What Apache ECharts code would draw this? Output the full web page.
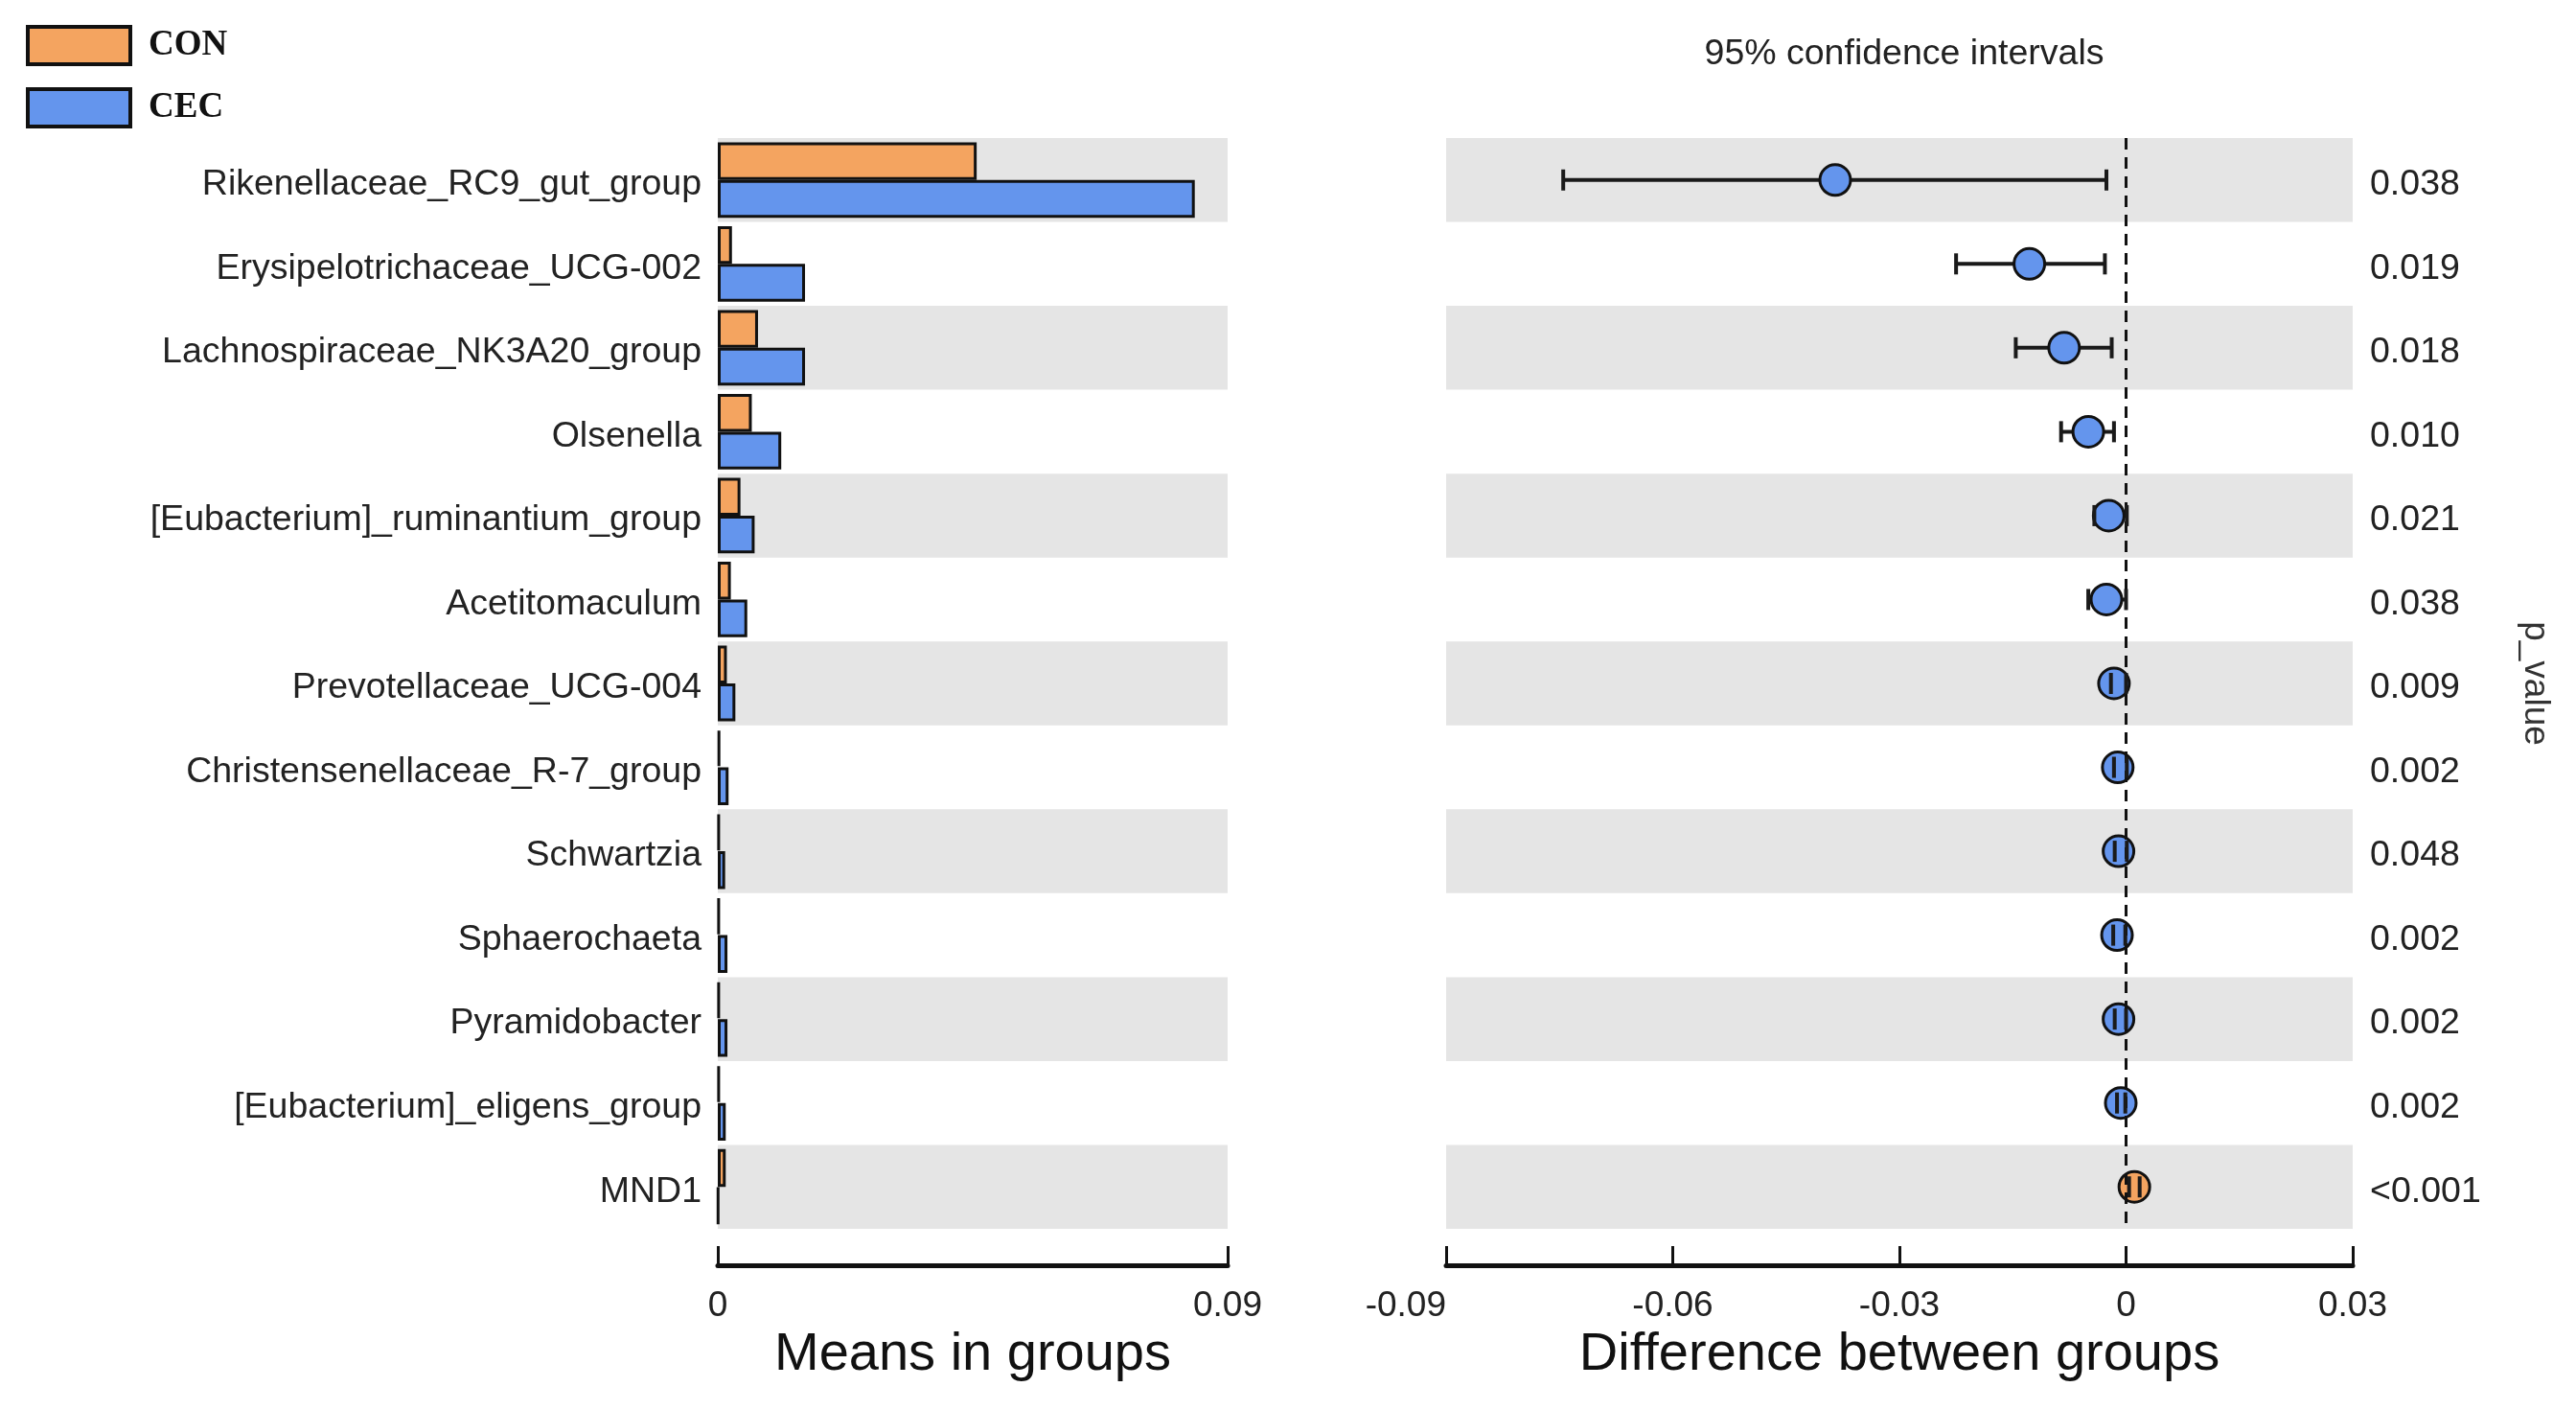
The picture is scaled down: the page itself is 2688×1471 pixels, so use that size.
<!DOCTYPE html>
<html>
<head>
<meta charset="utf-8">
<script src="https://cdn.jsdelivr.net/npm/echarts@6/dist/echarts.min.js"></script>
<style>html,body{margin:0;padding:0;background:#fff;}#c{width:2688px;height:1471px;}</style>
</head>
<body>
<div id="c"></div>
<script>
const categories = ['Rikenellaceae_RC9_gut_group','Erysipelotrichaceae_UCG-002','Lachnospiraceae_NK3A20_group','Olsenella','[Eubacterium]_ruminantium_group','Acetitomaculum','Prevotellaceae_UCG-004','Christensenellaceae_R-7_group','Schwartzia','Sphaerochaeta','Pyramidobacter','[Eubacterium]_eligens_group','MND1'];
const conMeans = [0.0457, 0.0025, 0.0071, 0.0060, 0.0040, 0.0023, 0.0016, 0.0004, 0.0003, 0.0003, 0.0003, 0.0003, 0.0014];
const cecMeans = [0.0842, 0.0154, 0.0154, 0.0112, 0.0065, 0.0052, 0.0031, 0.0019, 0.0013, 0.0017, 0.0017, 0.0014, 0.0001];
const diffs  = [-0.0385, -0.0128, -0.0082, -0.0050, -0.0023, -0.0026, -0.0016, -0.0011, -0.0010, -0.0012, -0.0010, -0.0007, 0.0011];
const ciLow  = [-0.0745, -0.0225, -0.0146, -0.0086, -0.0042, -0.0050, -0.0020, -0.0016, -0.0015, -0.0017, -0.0015, -0.0012, 0.0004];
const ciHigh = [-0.0026, -0.0028, -0.0019, -0.0016, 0.0001, 0.0000, 0.0000, 0.0001, 0.0001, -0.0001, 0.0000, -0.0001, 0.0018];
const pValues = ['0.038','0.019','0.018','0.010','0.021','0.038','0.009','0.002','0.048','0.002','0.002','0.002','<0.001'];
const meansTicks = [0, 0.09];
const diffTicks = [-0.09, 0.03];

const CON_COLOR = '#F4A460';
const CEC_COLOR = '#6495ED';
const FONT = "'Liberation Sans', Arial, Helvetica, sans-serif";

const chart = echarts.init(document.getElementById('c'));

const ciData = categories.map((c, i) => [ciLow[i], ciHigh[i], i]);
const pointData = categories.map((c, i) => ({
  value: [diffs[i], i],
  itemStyle: { color: diffs[i] > 0 ? CON_COLOR : CEC_COLOR }
}));

function renderLine(params, api) {
  const a = api.coord([api.value(0), api.value(2)]);
  const b = api.coord([api.value(1), api.value(2)]);
  return { type: 'line', shape: { x1: a[0], y1: a[1], x2: b[0], y2: b[1] },
           style: { stroke: '#1a1a1a', lineWidth: 4 } };
}
function renderCaps(params, api) {
  const a = api.coord([api.value(0), api.value(2)]);
  const b = api.coord([api.value(1), api.value(2)]);
  const h = 11;
  return { type: 'group', children: [
    { type: 'line', shape: { x1: a[0], y1: a[1]-h, x2: a[0], y2: a[1]+h }, style: { stroke: '#1a1a1a', lineWidth: 4 } },
    { type: 'line', shape: { x1: b[0], y1: b[1]-h, x2: b[0], y2: b[1]+h }, style: { stroke: '#1a1a1a', lineWidth: 4 } }
  ]};
}

const commonX = {
  offset: 38,
  axisLine: { show: true, onZero: false, lineStyle: { color: '#111', width: 5 } },
  axisTick: { show: true, inside: true, length: 20, lineStyle: { color: '#111', width: 3 } },
  axisLabel: { color: '#222', fontSize: 37, fontFamily: FONT, margin: 24 },
  splitLine: { show: false },
  nameLocation: 'middle',
  nameGap: 65,
  nameTextStyle: { color: '#111', fontSize: 56, fontFamily: FONT }
};

const labelRich = { t: { color: '#222', fontSize: 37.5, fontFamily: FONT, padding: [10, 0, 0, 0] } };

const option = {
  backgroundColor: '#fff',
  animation: false,
  textStyle: { fontFamily: FONT },
  title: {
    text: '95% confidence intervals',
    left: 1982, top: 33, textAlign: 'center',
    textStyle: { color: '#222', fontSize: 37.5, fontWeight: 'normal', fontFamily: FONT }
  },
  legend: {
    data: ['CON', 'CEC'],
    orient: 'vertical',
    left: 22, top: 21,
    itemWidth: 107, itemHeight: 39, itemGap: 22,
    icon: 'rect',
    itemStyle: { borderColor: '#111', borderWidth: 4 },
    textStyle: { fontFamily: "'Liberation Serif', 'Times New Roman', serif", fontWeight: 'bold', fontSize: 37, color: '#111', padding: [0, 0, 0, 14] }
  },
  grid: [
    { left: 749, top: 144, width: 532, height: 1138 },
    { left: 1509, top: 144, width: 946, height: 1138 }
  ],
  xAxis: [
    Object.assign({}, commonX, { gridIndex: 0, type: 'value', min: meansTicks[0], max: meansTicks[1], interval: 0.09, name: 'Means in groups' }),
    Object.assign({}, commonX, { gridIndex: 1, type: 'value', min: diffTicks[0], max: diffTicks[1], interval: 0.03, name: 'Difference between groups',
      axisLabel: Object.assign({}, commonX.axisLabel, { alignMinLabel: 'right' }) })
  ],
  yAxis: [
    { gridIndex: 0, type: 'category', data: categories, inverse: true,
      axisLine: { show: false }, axisTick: { show: false },
      axisLabel: { color: '#222', fontSize: 37.5, fontFamily: FONT, margin: 17,
                   formatter: (v) => '{t|' + v + '}', rich: labelRich },
      splitArea: { show: true, areaStyle: { color: ['#e5e5e5', 'rgba(255,255,255,0)'] } },
      splitLine: { show: false } },
    { gridIndex: 1, type: 'category', data: categories, inverse: true, position: 'right',
      axisLine: { show: false }, axisTick: { show: false },
      axisLabel: { color: '#222', fontSize: 37.5, fontFamily: FONT, margin: 18, align: 'left',
                   formatter: (v, i) => '{t|' + pValues[i] + '}', rich: labelRich },
      splitArea: { show: true, areaStyle: { color: ['#e5e5e5', 'rgba(255,255,255,0)'] } },
      splitLine: { show: false },
      name: 'p_value', nameLocation: 'middle', nameRotate: -90, nameGap: 172,
      nameTextStyle: { color: '#333', fontSize: 37, fontFamily: FONT } }
  ],
  series: [
    { name: 'CON', type: 'bar', xAxisIndex: 0, yAxisIndex: 0, data: conMeans,
      barGap: '0%', barCategoryGap: '10%',
      itemStyle: { color: CON_COLOR, borderColor: '#111', borderWidth: 3 } },
    { name: 'CEC', type: 'bar', xAxisIndex: 0, yAxisIndex: 0, data: cecMeans,
      barGap: '0%', barCategoryGap: '10%',
      itemStyle: { color: CEC_COLOR, borderColor: '#111', borderWidth: 3 } },
    { name: 'ci', type: 'custom', xAxisIndex: 1, yAxisIndex: 1, data: ciData,
      encode: { x: [0, 1], y: 2 }, renderItem: renderLine, z: 3, silent: true },
    { name: 'diff', type: 'scatter', xAxisIndex: 1, yAxisIndex: 1, data: pointData,
      symbol: 'circle', symbolSize: 32, z: 4,
      itemStyle: { borderColor: '#111', borderWidth: 3, opacity: 1 },
      markLine: { silent: true, symbol: ['none', 'none'], label: { show: false },
        lineStyle: { type: [12, 8], color: '#111', width: 3 },
        data: [{ xAxis: 0 }] } },
    { name: 'caps', type: 'custom', xAxisIndex: 1, yAxisIndex: 1, data: ciData,
      encode: { x: [0, 1], y: 2 }, renderItem: renderCaps, z: 5, silent: true }
  ]
};
chart.setOption(option);
</script>
</body>
</html>
